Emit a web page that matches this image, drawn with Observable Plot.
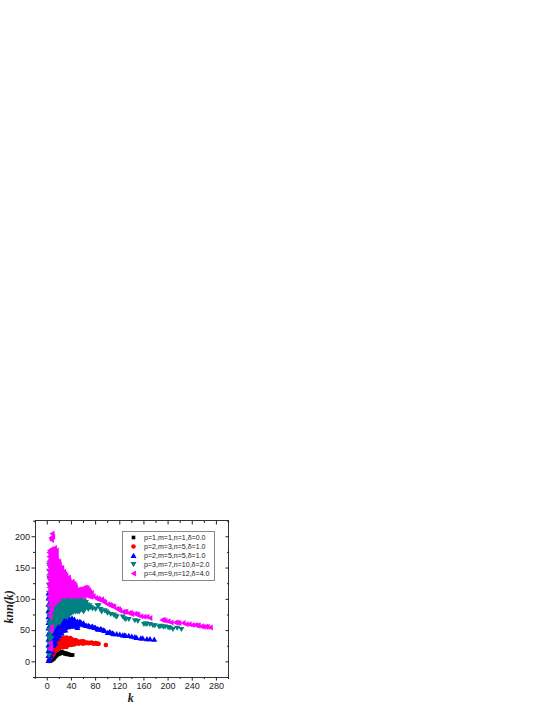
<!DOCTYPE html>
<html><head><meta charset="utf-8">
<script src="https://cdn.jsdelivr.net/npm/d3@7"></script>
<script src="https://cdn.jsdelivr.net/npm/@observablehq/plot@0.6"></script>
<style>
html,body{margin:0;padding:0;background:#fff}
#wrap{position:relative;width:545px;height:705px;overflow:hidden}
#legend{position:absolute;left:122px;top:531px;width:91px;height:47px;border:1px solid #888;background:#fff;font:7.05px "Liberation Sans",Arial,sans-serif;color:#222;box-sizing:content-box;padding-top:1px}
#legend div{display:flex;align-items:center;height:9px;white-space:nowrap}
#legend svg{width:21px;height:9px;flex:none}
</style></head><body><div id="wrap"><div id="chart"></div><div id="legend"></div></div>
<script>
const seriesNames=["p=1,m=1,n=1,δ=0.0","p=2,m=3,n=5,δ=1.0","p=2,m=5,n=5,δ=1.0","p=3,m=7,n=10,δ=2.0","p=4,m=9,n=12,δ=4.0"];
const seriesColors=["#000000","#ff0000","#0000ff","#008080","#ff00ff"];
const xMajor=[0,40,80,120,160,200,240,280];
const xMinor=[-20,20,60,100,140,180,220,260,300];
const yMajor=[0,50,100,150,200];
const yMinor=[-25,25,75,125,175,225];

const black=[[2,1],[3,1],[4,1],[5,1.5],[6,2],[7,3],[8,3],[9,4],[10,6],[11,5],[12,7],[13,8],[14,9],[15,10],[16,11],[17,12],[18,13],[19,12],[20,14],[21,13],[22,15],[23,14],[24,16],[25,15],[26,15],[27,14],[28,14],[29,13],[30,13],[31,14],[32,12],[33,13],[35,12],[36,12],[38,11],[40,11],[42,11]];

const red=[[3,3],[4,5],[5,6],[6,8],[7,11],[8,10],[8,15],[9,14],[10,12],[10,18],[11,22],[12,16],[12,24],[13,20],[14,28],[15,20],[15,25],[16,31],[17,23],[18,27],[18,33],[20,22],[20,28],[20,35],[22,25],[22,31],[23,36],[25,23],[25,29],[25,34],[26,38],[28,26],[28,32],[29,38],[30,24],[30,29],[31,35],[32,39],[34,27],[34,32],[35,37],[37,29],[37,34],[38,38],[40,28],[40,32],[41,36],[43,30],[44,34],[46,31],[47,35],[49,30],[50,33],[52,29],[53,32],[55,31],[57,33],[59,29],[60,33],[62,31],[64,30],[66,31],[68,30],[70,30],[73,31],[75,30],[77,29],[80,30],[82,29],[84,29],[85,29],[97,27],
[21,36],[24,37],[27,36],[33,36],[36,35],[39,35],[16,32],[19,31],[24,32],[27,32],[33,31],[36,32],[39,30],[42,32],[45,33],[48,32],[14,27],[19,24],[23,28],[27,27],[31,26],[33,28],[36,27],[39,27],[42,28],[45,28],[13,23],[17,20],[21,24],[24,25],[27,24],[32,24]];

const blue=[[2,2],[2,10],[2,18],[2,27],[2,36],[2,45],[2,54],[2,63],[2,72],[2,82],[2,92],[2,102],[2,110],[4,5],[4,14],[4,24],[4,34],[4,44],[4,58],[4,68],[4,78],[6,10],[6,20],[6,30],[7,40],[7,50],[8,16],[8,26],[9,26],[9,35],[10,45],[10,52],[11,28],[12,32],[12,40],[13,50],[14,58],[14,36],[15,42],[16,49],[17,60],[17,38],[18,46],[19,54],[20,42],[20,48],[20,66],[22,46],[22,52],[22,61],[23,70],[24,50],[25,57],[25,70],[27,52],[27,64],[28,72],[29,59],[30,55],[30,75],[32,66],[33,60],[35,56],[35,72],[37,66],[39,60],[40,58],[41,70],[43,64],[45,60],[45,68],[48,62],[50,58],[50,65],[53,61],[56,63],[58,60],[60,62],[62,59],[65,58],[68,58],[70,57],[73,56],[75,57],[78,55],[80,55],[83,53],[85,52],[88,53],[90,52],[93,51],[95,50],[100,47],[103,48],[105,47],[108,46],[110,45],[115,45],[120,44],[125,43],[128,43],[130,42],[135,42],[140,41],[145,40],[148,39],[155,38],[158,38],[165,37],[170,37],[177,36],
[24,69],[28,67],[32,71],[36,69],[40,66],[18,63],[22,65],[26,61],[30,63],[34,65],[38,63],[42,61],[46,64],[50,62],[54,65],[14,53],[18,57],[22,57],[26,55],[30,58],[34,59],[38,57],[42,58],[46,57],[50,55],[10,38],[14,46],[18,51],[22,50],[26,50],[30,51],[8,43],[12,46],[16,43],[20,53],[24,46],[7,32],[11,34],[13,30],[6,38],[9,46]];

const teal=[[3,10],[3,20],[3,30],[3,40],[3,50],[3,62],[3,74],[3,86],[3,98],[3,110],[3,122],[3,134],[3,145],[3,155],[5,28],[5,44],[5,58],[5,70],[5,82],[5,95],[7,38],[7,52],[7,65],[7,78],[7,90],[9,60],[9,72],[9,84],[9,96],[10,55],[10,68],[10,80],[12,62],[12,74],[13,86],[13,96],[15,60],[15,70],[16,82],[17,92],[18,76],[19,65],[20,75],[20,86],[20,95],[22,100],[23,68],[23,80],[24,90],[25,76],[26,72],[27,84],[27,98],[29,90],[30,72],[30,80],[30,92],[30,105],[32,100],[33,76],[34,86],[35,98],[36,92],[37,80],[38,90],[39,104],[40,78],[41,98],[42,84],[43,96],[45,82],[46,90],[47,102],[48,96],[50,80],[50,88],[50,105],[52,94],[53,100],[55,84],[56,90],[58,96],[60,80],[60,92],[62,88],[63,92],[65,88],[68,84],[70,90],[72,87],[75,85],[80,84],[83,90],[85,90],[88,84],[90,80],[95,82],[98,80],[100,78],[105,76],[110,75],[113,73],[115,72],[125,72],[128,69],[130,68],[135,68],[145,66],[150,65],[160,60],[163,61],[165,60],[170,60],[175,58],[178,58],[185,56],[188,57],[192,56],[195,56],[200,55],[203,54],[208,52],[215,54],[222,52],
[17,100],[21,101],[25,99],[28,101],[33,102],[37,100],[41,103],[45,99],[49,101],[55,99],[12,93],[16,94],[19,92],[22,94],[26,93],[31,95],[33,93],[38,96],[44,93],[47,95],[51,97],[56,94],[60,97],[64,95],[11,86],[14,87],[18,85],[22,87],[26,86],[28,86],[32,87],[36,85],[40,87],[44,86],[48,85],[53,87],[58,86],[62,84],[66,87],[8,79],[12,80],[14,79],[20,80],[24,79],[28,78],[32,80],[36,79],[43,79],[47,80],[53,80],[7,71],[11,72],[14,73],[18,70],[21,72],[25,70],[29,73],[33,71],[6,65],[10,62],[14,65],[17,66],[22,65],[5,52],[9,50],[13,58],[8,58]];

const pinkPeak=[[7,195],[8,205],[6,198],[9,200],[12,182],[7,180],[10,179],[4,178]];
const pinkBody=[[3,175],[6,174],[9,175],[12,176],[15,178],[3,168],[6,167],[9,169],[13,168],[15,169],
[3,161],[6,162],[9,160],[13,161],[16,162],[19,160],[3,154],[7,154],[10,155],[14,153],[17,155],[20,155],
[3,147],[6,148],[10,146],[13,147],[17,148],[21,147],[24,150],[3,140],[7,140],[10,141],[14,139],[18,141],[22,140],[26,142],[29,141],
[3,133],[6,133],[10,134],[14,132],[17,133],[21,134],[25,132],[29,134],[32,133],[35,135],
[3,126],[7,126],[11,125],[14,127],[18,126],[22,125],[26,127],[30,126],[34,125],[37,127],[41,128],[44,125],
[3,119],[6,119],[10,120],[14,118],[18,119],[21,120],[25,118],[29,119],[33,120],[36,118],[40,119],[44,120],[47,118],[60,118],[63,119],[66,118],
[3,112],[7,112],[10,113],[14,111],[17,112],[21,113],[25,111],[28,112],[32,113],[36,111],[40,112],[44,113],[48,111],[51,113],[55,114],[58,112],[62,113],[66,112],[70,112],[73,110],
[3,105],[6,105],[10,106],[13,104],[17,105],[21,106],[25,104],[29,105],[33,106],[37,104],[41,105],[45,106],[49,104],[53,106],[57,105],[61,104],[65,106],[69,105],[72,104]];
const pinkBody2=[[5,171],[8,172],[11,172],[14,173],[5,164],[8,165],[11,164],[14,165],[17,159],[5,158],[8,158],[12,157],[15,158],[18,157],
[5,151],[9,151],[12,150],[15,151],[19,151],[22,150],[5,144],[9,144],[12,143],[16,144],[20,144],[24,145],[27,144],
[5,137],[9,137],[12,136],[16,137],[20,137],[23,136],[27,137],[31,138],[34,130],[5,130],[9,130],[12,129],[16,130],[20,130],[24,129],[28,130],[32,129],[36,130],[39,124],[42,124],
[5,123],[9,123],[12,122],[16,123],[20,122],[24,123],[28,122],[31,123],[35,122],[38,123],[42,122],[46,122],[5,116],[8,116],[12,115],[16,116],[19,116],[23,115],[27,116],[31,115],[35,116],[38,115],[42,116],[46,116],[50,115],[53,116],[56,115],[59,116],[62,116],[65,115],[68,115],
[5,109],[8,109],[12,108],[15,109],[19,108],[23,109],[27,108],[30,109],[34,108],[38,109],[42,108],[47,109],[51,108],[55,109],[59,108],[63,109],[67,108],[71,108],[5,102],[8,102],[11,101],[15,102],[19,101]];
const pinkLow=[[3,98],[6,98],[9,99],[13,97],[16,98],[3,91],[7,90],[11,92],[4,78],[7,84],[5,72],[7,56],[6,50],[5,30],[6,24],[5,20]];
const pinkTail=[[76,105],[80,102],[83,101],[85,100],[88,99],[90,100],[93,97],[95,95],[100,92],[103,91],[105,90],[108,89],[110,88],[115,85],[118,84],[120,82],[125,80],[128,80],[130,80],[135,78],[138,78],[140,76],[145,77],[148,76],[150,75],[155,73],[160,72],[165,72],[170,70],[190,67],[192,67],[195,66],[200,65],[205,63],[212,63],[215,63],[218,62],[225,62],[230,60],[235,60],[240,59],[245,59],[248,58],[250,58],[255,57],[258,56],[262,56],[265,56],[270,55]];
const pink=[...pinkLow,...pinkPeak,...pinkBody,...pinkBody2,...pinkTail];

const tealGaps=[[15,97],[19,97],[23,97],[27,96],[31,99],[35,101],[39,99],[43,100],[47,98],[51,101],[14,90],[18,90],[22,90],[26,89],[30,89],[34,90],[38,92],[42,90],[46,87],[50,92],[54,91],[58,90],[62,92],[66,91],[10,83],[14,83],[18,82],[22,83],[26,82],[30,84],[34,83],[38,83],[42,82],[46,83],[50,84],[54,83],[58,83],[9,76],[13,76],[17,76],[21,76],[25,74],[29,76],[33,75],[37,75],[7,68],[11,68],[15,68],[19,69],[23,72],[8,62],[12,66],[16,62],[20,62],[7,55],[11,56],[4,36],[6,48]];

const triDown={draw(c,s){const r=Math.sqrt(s/1.3);c.moveTo(-r,-r*.8);c.lineTo(r,-r*.8);c.lineTo(0,r*.9);c.closePath();}};
const triLeft={draw(c,s){const r=Math.sqrt(s/1.3);c.moveTo(-r*.9,0);c.lineTo(r*.8,-r);c.lineTo(r*.8,r);c.closePath();}};
const triUp={draw(c,s){const r=Math.sqrt(s/1.3);c.moveTo(-r,r*.8);c.lineTo(r,r*.8);c.lineTo(0,-r*.9);c.closePath();}};
const square={draw(c,s){const r=Math.sqrt(s)/2;c.rect(-r,-r,2*r,2*r);}};
const circle={draw(c,s){const r=Math.sqrt(s/Math.PI);c.moveTo(r,0);c.arc(0,0,r,0,2*Math.PI);}};
const symbols=[square,circle,triUp,triDown,triLeft];
const sizes=[13,17,12,12,12];
const allSeries=[black,red,blue,[...teal,...tealGaps],pink];
const order=[0,1,2,3,4];

const blank=()=>"";
const labelFont={fontSize:12,fontWeight:"bold",fontStyle:"italic",fontFamily:"'Liberation Serif',serif",label:null};
const plot=Plot.plot({
  width:545,height:705,marginTop:520,marginBottom:28,marginLeft:35,marginRight:317,
  style:{background:"transparent",fontFamily:"'Liberation Sans',Arial,sans-serif",fontSize:"9px",color:"#222"},
  x:{domain:[-19.5,300],label:null},
  y:{domain:[-25,226],label:null},
  marks:[
    ...order.map(i=>Plot.dot(allSeries[i],{x:d=>d[0],y:d=>d[1],symbol:()=>symbols[i],r:Math.sqrt(sizes[i]/Math.PI),fill:seriesColors[i],stroke:"none"})),
    Plot.frame({stroke:"#333",strokeWidth:1}),
    Plot.axisX({ticks:xMajor,tickSize:3.5,tickPadding:2,fontSize:9,label:null}),
    Plot.axisX({ticks:xMinor,tickSize:2,tickFormat:blank,label:null}),
    Plot.axisX({anchor:"top",ticks:xMajor,tickSize:-3.5,tickFormat:blank,label:null}),
    Plot.axisX({anchor:"top",ticks:xMinor,tickSize:-2,tickFormat:blank,label:null}),
    Plot.axisY({ticks:yMajor,tickSize:3.5,tickPadding:2,fontSize:9,label:null}),
    Plot.axisY({ticks:yMinor,tickSize:2,tickFormat:blank,label:null}),
    Plot.axisY({anchor:"right",ticks:yMajor,tickSize:-3.5,tickFormat:blank,label:null}),
    Plot.axisY({anchor:"right",ticks:yMinor,tickSize:-2,tickFormat:blank,label:null}),
    Plot.axisX({ticks:[138],tickSize:0,tickPadding:16,tickFormat:()=>"k",...labelFont}),
    Plot.axisY({ticks:[88],tickSize:0,tickPadding:23,tickRotate:-90,tickFormat:()=>"knn(k)",...labelFont})
  ]
});
document.getElementById("chart").appendChild(plot);

const leg=document.getElementById("legend");
seriesNames.forEach((name,i)=>{
  const row=document.createElement("div");
  const path=d3.path();symbols[i].draw(path,sizes[i]);
  row.innerHTML=`<svg viewBox="-10.5 -4.5 21 9"><path d="${path}" fill="${seriesColors[i]}"/></svg><span>${name}</span>`;
  leg.appendChild(row);
});
</script></body></html>
